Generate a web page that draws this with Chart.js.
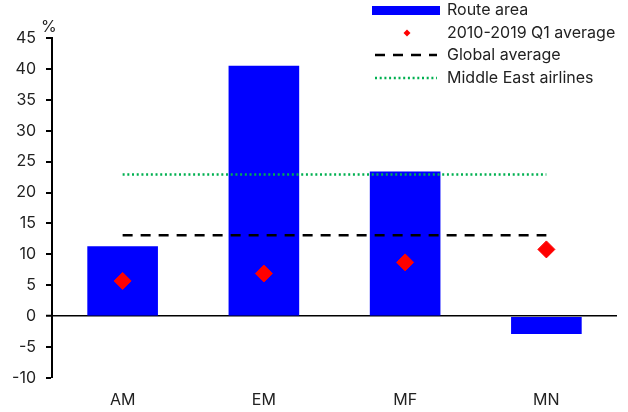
<!DOCTYPE html>
<html>
<head>
<title>Route area</title>
<script src="https://cdn.jsdelivr.net/npm/chart.js@4.4.1/dist/chart.umd.min.js"></script>
<style>
  body { margin: 0; background: #fff; }
  #wrap { position: relative; width: 628px; height: 412px; }
  #unit { position: absolute; left: 41px; top: 16px; font: 16px Inter, sans-serif; color: #222; }
</style>
</head>
<body>
<div id="wrap">
  <canvas id="myChart" width="628" height="412"></canvas>
  <div id="unit">%</div>
</div>
<script>
var categories = ['AM', 'EM', 'MF', 'MN'];
var routeArea = [11.3, 40.5, 23.4, -2.9];
var q1Average = [5.7, 6.9, 8.7, 10.8];
var globalAverage = [13.1, 13.1, 13.1, 13.1];
var middleEast = [22.9, 22.9, 22.9, 22.9];
var yTicks = [45, 40, 35, 30, 25, 20, 15, 10, 5, 0, -5, -10];

var FONT = 'Inter, sans-serif';
var GREEN = '#00b050';

// legend drawn inside the chart area, top right
var legendBox = {
  id: 'legendBox',
  afterDraw: function(chart) {
    var ctx = chart.ctx;
    var x0 = 372, x1 = 440, tx = 447;
    var rows = [10, 33, 55, 78];
    ctx.save();
    ctx.fillStyle = '#0000ff';
    ctx.fillRect(x0, rows[0] - 4, x1 - x0, 9);
    ctx.fillStyle = '#ff0000';
    ctx.beginPath();
    ctx.moveTo(407, rows[1] - 3.5);
    ctx.lineTo(410.5, rows[1]);
    ctx.lineTo(407, rows[1] + 3.5);
    ctx.lineTo(403.5, rows[1]);
    ctx.closePath();
    ctx.fill();
    ctx.lineWidth = 2.5;
    ctx.strokeStyle = '#000';
    ctx.setLineDash([10, 8]);
    ctx.beginPath();
    ctx.moveTo(375, rows[2]);
    ctx.lineTo(437, rows[2]);
    ctx.stroke();
    ctx.strokeStyle = GREEN;
    ctx.setLineDash([2, 2.7]);
    ctx.beginPath();
    ctx.moveTo(375, rows[3]);
    ctx.lineTo(437, rows[3]);
    ctx.stroke();
    ctx.fillStyle = '#222';
    ctx.font = '16px ' + FONT;
    ctx.textBaseline = 'middle';
    var labels = ['Route area', '2010-2019 Q1 average', 'Global average', 'Middle East airlines'];
    for (var i = 0; i < labels.length; i++) {
      ctx.fillText(labels[i], tx, rows[i]);
    }
    ctx.restore();
  }
};

var ctx = document.getElementById('myChart').getContext('2d');
var chart = new Chart(ctx, {
  type: 'bar',
  data: {
    labels: categories,
    datasets: [
      { type: 'line', label: '2010-2019 Q1 average', data: q1Average, showLine: false,
        pointStyle: 'rectRot', pointRadius: 8.5, pointBackgroundColor: '#ff0000',
        pointBorderColor: '#ff0000', pointBorderWidth: 1, order: 1 },
      { type: 'line', label: 'Global average', data: globalAverage, borderColor: '#000',
        borderWidth: 2.5, borderDash: [10, 8], pointRadius: 0, fill: false, order: 2 },
      { type: 'line', label: 'Middle East airlines', data: middleEast, borderColor: GREEN,
        borderWidth: 2.5, borderDash: [2, 2.7], pointRadius: 0, fill: false, order: 3 },
      { label: 'Route area', data: routeArea, backgroundColor: '#0000ff',
        barPercentage: 0.5, categoryPercentage: 1, order: 4 }
    ]
  },
  options: {
    responsive: false,
    animation: false,
    layout: { padding: { top: 38, right: 11, left: 0, bottom: 0 } },
    plugins: { legend: { display: false }, tooltip: { enabled: false } },
    scales: {
      x: {
        grid: { display: false, drawTicks: false },
        border: { display: false },
        ticks: { padding: 13, color: '#222', font: { family: FONT, size: 16 } },
        afterFit: function(s) { s.height = 34; }
      },
      y: {
        min: -10, max: 45,
        afterBuildTicks: function(s) { s.ticks = yTicks.map(function(v) { return { value: v }; }); },
        afterFit: function(s) { s.width = 52; },
        border: { display: true, color: '#000', width: 2 },
        grid: {
          drawOnChartArea: true,
          color: function(c) { return c.tick && c.tick.value === 0 ? '#000' : 'rgba(0,0,0,0)'; },
          lineWidth: function(c) { return c.tick && c.tick.value === 0 ? 1.5 : 0; },
          tickColor: '#000', tickLength: 6, tickWidth: 2
        },
        ticks: { padding: 10, color: '#222', font: { family: FONT, size: 16 } }
      }
    }
  },
  plugins: [legendBox]
});
</script>
</body>
</html>
